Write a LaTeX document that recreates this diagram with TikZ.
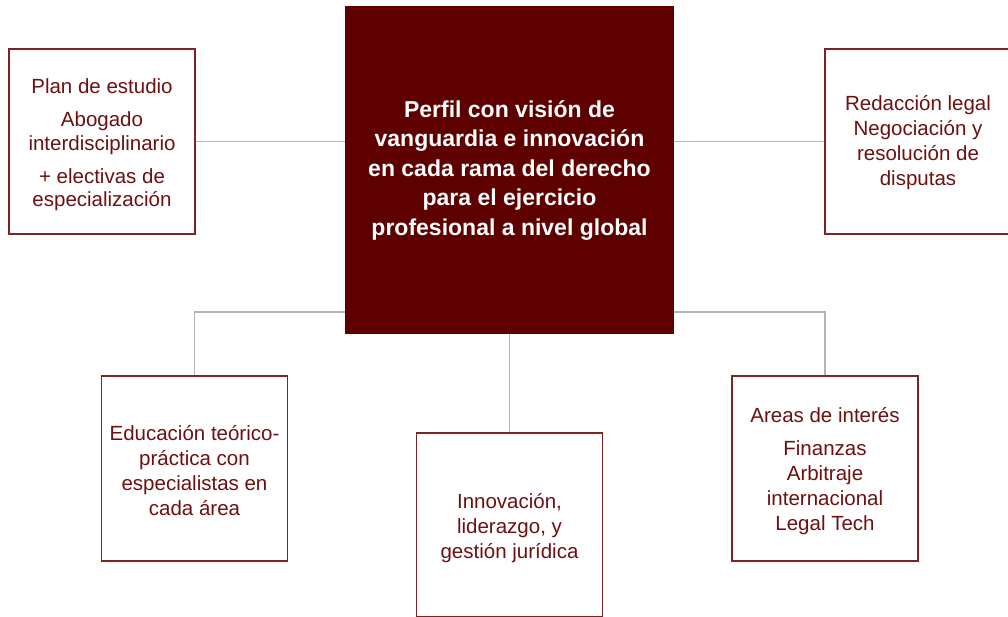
\documentclass[tikz,border=0pt]{standalone}
\usepackage{fontspec}
\setmainfont{Liberation Sans}
\usetikzlibrary{calc}
\definecolor{maroonfill}{HTML}{5E0000}
\definecolor{txtred}{HTML}{6E1010}
\definecolor{bordred}{HTML}{7D2323}
\definecolor{conngray}{HTML}{B4B4B4}
\newcommand{\topstrut}[1]{\rule{0pt}{#1}}
\begin{document}
\begin{tikzpicture}[x=1pt,y=-1pt,
  box/.style={draw=bordred, line width=1.2pt, fill=white, text=txtred, align=center,
    font=\fontsize{20.5}{25}\selectfont, inner sep=0pt, minimum width=186pt, minimum height=185pt},
  connector/.style={draw=conngray, line width=1.1pt},
  hub/.style={fill=maroonfill, minimum width=329pt, minimum height=328pt, inner sep=0pt,
    text=white, align=center, font=\bfseries\fontsize{23}{29.5}\selectfont}]
\useasboundingbox (0,0) rectangle (1008,616);
\clip (0,0) rectangle (1008,616);
\fill[white] (0,0) rectangle (1008,616);
\coordinate (hl) at (345,312);
\coordinate (hr) at (674,312);
\node[box] (lt) at (102,141.5) {\topstrut{22pt}Plan de estudio\\[8pt]Abogado\\[-1.5pt]interdisciplinario\\[8pt]+ electivas de\\[-1.5pt]especialización};
\node[box] (rt) at (918,141.5) {\topstrut{17pt}Redacción legal\\Negociación y\\resolución de\\disputas};
\node[box] (lb) at (194.5,468.5) {\topstrut{20pt}Educación teórico-\\práctica con\\especialistas en\\cada área};
\node[box, minimum height=184pt] (mb) at (509.5,525) {\topstrut{21pt}Innovación,\\liderazgo, y\\gestión jurídica};
\node[box] (rb) at (825,468.5) {\topstrut{21pt}Areas de interés\\[8pt]Finanzas\\Arbitraje\\internacional\\Legal Tech};
\draw[connector] (lt.east) -- (lt.east -| hl);
\draw[connector] (rt.west) -- (rt.west -| hr);
\draw[connector] (lb.north) |- (hl);
\draw[connector] (rb.north) |- (hr);
\draw[connector] (hl -| mb.north) -- (mb.north);
\node[hub] (c) at (509.5,170) {Perfil con visión de\\vanguardia e innovación\\en cada rama del derecho\\para el ejercicio\\profesional a nivel global};
\end{tikzpicture}
\end{document}
